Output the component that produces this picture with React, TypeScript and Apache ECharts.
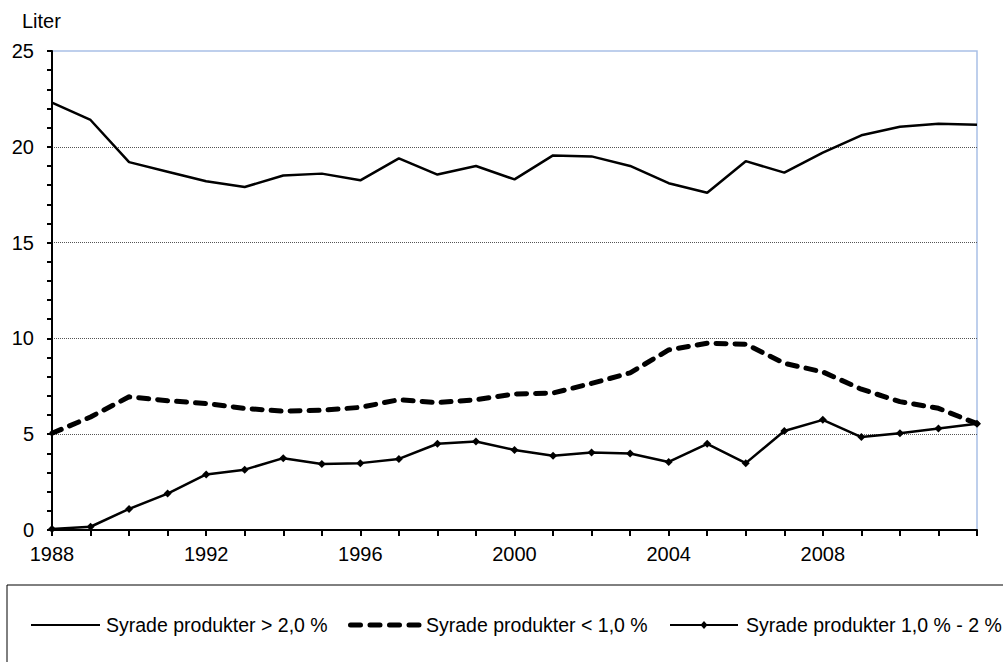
import React, { useEffect, useRef } from "react";
import * as echarts from "echarts";

const years = [
  "1988", "1989", "1990", "1991", "1992", "1993", "1994", "1995", "1996", "1997",
  "1998", "1999", "2000", "2001", "2002", "2003", "2004", "2005", "2006", "2007",
  "2008", "2009", "2010", "2011", "2012",
];

const seriesNames = [
  "Syrade produkter > 2,0 %",
  "Syrade produkter < 1,0 %",
  "Syrade produkter 1,0 % - 2 %",
];

const above2 = [
  22.3, 21.4, 19.2, 18.7, 18.2, 17.9, 18.5, 18.6, 18.25, 19.4,
  18.55, 19.0, 18.3, 19.55, 19.5, 19.0, 18.1, 17.6, 19.25, 18.65,
  19.7, 20.6, 21.05, 21.2, 21.15,
];

const below1 = [
  5.05, 5.9, 6.95, 6.75, 6.6, 6.35, 6.2, 6.25, 6.4, 6.8,
  6.65, 6.8, 7.1, 7.15, 7.65, 8.2, 9.4, 9.75, 9.7, 8.7,
  8.25, 7.35, 6.7, 6.35, 5.55,
];

const between = [
  0.05, 0.17, 1.1, 1.9, 2.9, 3.15, 3.75, 3.45, 3.49, 3.71,
  4.5, 4.62, 4.18, 3.87, 4.04, 3.99, 3.55, 4.5, 3.49, 5.17,
  5.75, 4.85, 5.05, 5.3, 5.54,
];

const yTicks = [0, 5, 10, 15, 20, 25];
const unitLabel = "Liter";

const FONT = "'Liberation Sans', Arial, sans-serif";
const FS = 20;
const LFS = 19.5;

export default function App() {
  const ref = useRef<HTMLDivElement>(null);

  useEffect(() => {
    if (!ref.current) return;
    const chart = echarts.init(ref.current, undefined, { renderer: "svg" });
    const legY = 625;
    chart.setOption({
      animation: false,
      backgroundColor: "#ffffff",
      textStyle: { fontFamily: FONT },
      grid: {
        left: 52,
        right: 26,
        top: 51,
        bottom: 132,
        show: true,
        borderColor: "#a9c0e6",
        borderWidth: 1.5,
        backgroundColor: "transparent",
      },
      xAxis: {
        type: "category",
        data: years,
        boundaryGap: false,
        axisLine: { lineStyle: { color: "#000", width: 2 } },
        axisTick: { show: true, interval: 0, length: 6, lineStyle: { color: "#000", width: 2 } },
        axisLabel: {
          interval: (i: number) => i % 4 === 0 && i < years.length - 1,
          color: "#000",
          fontSize: FS,
          fontFamily: FONT,
          margin: 14,
        },
        splitLine: { show: false },
      },
      yAxis: {
        type: "value",
        min: yTicks[0],
        max: yTicks[yTicks.length - 1],
        interval: 5,
        axisLine: { show: true, lineStyle: { color: "#000", width: 2 } },
        axisTick: { show: true, length: 5, lineStyle: { color: "#000", width: 2 } },
        minorTick: { show: true, splitNumber: 5, length: 5, lineStyle: { color: "#000", width: 2 } },
        axisLabel: { color: "#000", fontSize: FS, fontFamily: FONT, margin: 18 },
        splitLine: {
          show: true,
          lineStyle: {
            color: ["#555", "#555", "#555", "#555", "#555", "rgba(0,0,0,0)"],
            type: [1, 1],
            width: 1,
          },
        },
      },
      series: [
        {
          name: seriesNames[0],
          type: "line",
          data: above2,
          symbol: "none",
          lineStyle: { color: "#000", width: 2.5 },
        },
        {
          name: seriesNames[1],
          type: "line",
          data: below1,
          symbol: "none",
          lineStyle: { color: "#000", width: 5, type: [10, 9], cap: "round" },
        },
        {
          name: seriesNames[2],
          type: "line",
          data: between,
          symbol: "diamond",
          symbolSize: 8,
          itemStyle: { color: "#000" },
          lineStyle: { color: "#000", width: 2.5 },
        },
      ],
      graphic: [
        {
          type: "text",
          x: 22,
          y: 21,
          style: { text: unitLabel, fontSize: FS, fontFamily: FONT, fill: "#000", verticalAlign: "middle" },
        },
        {
          type: "rect",
          shape: { x: 7, y: 585, width: 1010, height: 100 },
          style: { fill: "none", stroke: "#000", lineWidth: 1 },
        },
        {
          type: "line",
          shape: { x1: 31, y1: legY, x2: 100, y2: legY },
          style: { stroke: "#000", lineWidth: 2 },
        },
        {
          type: "text",
          x: 106,
          y: legY,
          style: { text: seriesNames[0], fontSize: LFS, fontFamily: FONT, fill: "#000", verticalAlign: "middle" },
        },
        {
          type: "line",
          shape: { x1: 350.5, y1: legY, x2: 419, y2: legY },
          style: { stroke: "#000", lineWidth: 5, lineDash: [10, 9.5], lineCap: "round" },
        },
        {
          type: "text",
          x: 426,
          y: legY,
          style: { text: seriesNames[1], fontSize: LFS, fontFamily: FONT, fill: "#000", verticalAlign: "middle" },
        },
        {
          type: "line",
          shape: { x1: 670, y1: legY, x2: 738, y2: legY },
          style: { stroke: "#000", lineWidth: 2 },
        },
        {
          type: "polygon",
          shape: { points: [[704, legY - 4], [707.5, legY], [704, legY + 4], [700.5, legY]] },
          style: { fill: "#000" },
        },
        {
          type: "text",
          x: 746,
          y: legY,
          style: { text: seriesNames[2], fontSize: LFS, fontFamily: FONT, fill: "#000", verticalAlign: "middle" },
        },
      ],
    });
    return () => chart.dispose();
  }, []);

  return (
    <div
      ref={ref}
      style={{ position: "fixed", left: 0, top: 0, width: 1003, height: 662 }}
    />
  );
}
